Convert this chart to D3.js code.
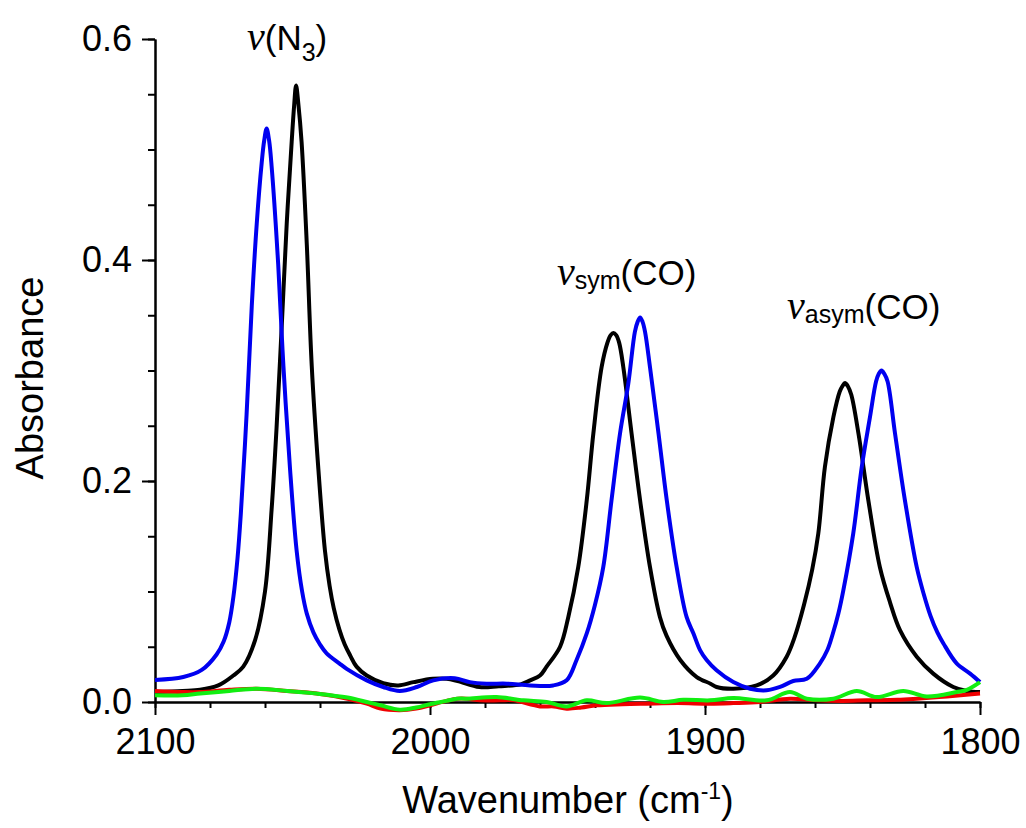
<!DOCTYPE html>
<html>
    <head>
        <title>IR spectra</title>
        <style>
            body { margin:0; background:#fff; }
            svg text { font-family:"Liberation Sans", Arial, sans-serif; fill:#000; }
            .axis path, .axis line { stroke:#000; stroke-width:2px; }
            .axis text { font-size:36px; }
        </style>
    </head>
    <body>
        <div id="chart"></div>
        <script src="https://d3js.org/d3.v7.min.js"></script>
        <script>
            // (wavenumber in cm-1, absorbance)
            var blackWn  = [2100,2090,2083.6,2077,2071.5,2067.9,2063.6,2060,2057.6,2055.8,2053.9,2052.1,2050.3,2049.4,2048.7,2047.9,2046.7,2044.8,2043,2040.6,2038.2,2036.5,2035,2033,2031,2029,2026.7,2023,2017,2011.5,2006,1999,1994,1990,1982,1975,1967,1963.6,1960,1957.6,1952.7,1949.7,1946.1,1943,1940.6,1937.6,1935.5,1934.3,1933.3,1932.3,1931.2,1929.7,1926.7,1923.6,1920,1916.4,1914,1909,1903,1898,1895.8,1889.7,1881.2,1875.2,1870.3,1867.5,1864,1861,1858.8,1856.4,1853.3,1851,1850,1849.1,1848.1,1846.8,1844.2,1840.6,1836.4,1832.7,1829.1,1823,1817,1809.7,1804.8,1800];
            var blackAbs = [0.009,0.010,0.011,0.015,0.024,0.032,0.056,0.100,0.174,0.248,0.341,0.433,0.507,0.540,0.558,0.542,0.507,0.414,0.304,0.211,0.137,0.105,0.085,0.066,0.052,0.042,0.032,0.024,0.017,0.015,0.018,0.021,0.021,0.019,0.0135,0.0143,0.016,0.0196,0.024,0.032,0.050,0.077,0.122,0.1825,0.243,0.303,0.325,0.332,0.334,0.332,0.325,0.303,0.243,0.1825,0.122,0.077,0.060,0.038,0.0226,0.0166,0.0136,0.012,0.015,0.024,0.041,0.058,0.088,0.120,0.1524,0.2127,0.258,0.281,0.286,0.2887,0.286,0.278,0.243,0.1825,0.122,0.090,0.065,0.041,0.0257,0.0136,0.010,0.009];

            var blueWn  = [2100,2089.7,2083,2077.6,2075,2073,2071.5,2070,2068.8,2066.7,2064.8,2063,2061.2,2060.3,2059.4,2058.5,2057.6,2055.2,2053.3,2050.9,2048.5,2046.5,2044.8,2042.4,2040,2037.6,2033,2030.3,2023,2017,2011,2004.8,1998.8,1991,1985.5,1979.4,1972,1963.6,1955.2,1950.3,1946.7,1943,1940,1937,1934,1930.9,1927.9,1925.5,1924.5,1923.6,1922.7,1921.8,1920,1916.9,1913.9,1910.3,1906.7,1904.2,1901.8,1899.4,1895.8,1889.7,1883.6,1877.6,1872.7,1867.9,1863,1858.2,1855.5,1853.5,1851.5,1849.7,1846.1,1843,1840,1837.8,1836.8,1835.8,1834.8,1833.6,1830.9,1827.3,1823,1820.5,1818,1815.5,1813.3,1808.5,1803.6,1800];
            var blueAbs = [0.020,0.0226,0.029,0.043,0.055,0.072,0.095,0.130,0.170,0.260,0.359,0.433,0.488,0.508,0.519,0.508,0.485,0.396,0.304,0.211,0.137,0.100,0.080,0.063,0.052,0.044,0.035,0.030,0.0196,0.0136,0.010,0.0136,0.0196,0.0215,0.018,0.0166,0.0166,0.015,0.015,0.0196,0.038,0.062,0.088,0.122,0.1825,0.243,0.288,0.335,0.344,0.348,0.344,0.335,0.303,0.243,0.1825,0.122,0.077,0.062,0.047,0.038,0.0287,0.018,0.012,0.0106,0.0136,0.019,0.021,0.035,0.047,0.062,0.080,0.101,0.1524,0.2127,0.258,0.290,0.297,0.300,0.297,0.290,0.243,0.1825,0.122,0.098,0.078,0.063,0.053,0.035,0.0257,0.018];

            var redWn  = [2100,2090,2083.6,2073,2063,2052,2041.2,2030,2023,2018,2011,2005,2000,1994,1990,1986.7,1981.8,1974.5,1969.7,1960,1955,1950.3,1945,1939.4,1930,1921.2,1910,1898.2,1889.7,1880,1869.1,1859.4,1850,1841.2,1830,1823,1812,1800];
            var redAbs = [0.010,0.009,0.009,0.011,0.012,0.010,0.0076,0.003,-0.0015,-0.006,-0.0075,-0.006,-0.003,0.001,0.003,0.003,0.0015,0.0015,0.0015,-0.004,-0.004,-0.006,-0.005,-0.003,-0.002,-0.0015,-0.001,-0.0015,-0.001,0.000,0.003,0.0015,0.001,0.0015,0.002,0.003,0.005,0.0076];

            var greenWn  = [2100,2090,2083.6,2073,2063,2052,2041.2,2030,2023,2018,2011,2005,2000,1994,1990.3,1986.7,1975.8,1966,1957.6,1950.3,1943,1935.8,1923.6,1915.2,1907.9,1898.2,1889.7,1877.6,1869.1,1863,1853.3,1844.8,1837.6,1827.9,1819.4,1808.5,1804.8,1800];
            var greenAbs = [0.006,0.006,0.0076,0.010,0.012,0.010,0.0076,0.004,0.000,-0.003,-0.0069,-0.005,-0.002,0.001,0.003,0.003,0.0045,0.0015,0.000,-0.004,0.0015,-0.001,0.004,0.000,0.002,0.0015,0.0036,0.0015,0.009,0.003,0.003,0.010,0.0045,0.010,0.005,0.009,0.011,0.018];

            var xMajor = [2100,2000,1900,1800];
            var xMinor = d3.range(1800, 2101, 20);
            var yMajor = [0.0,0.2,0.4,0.6];
            var yMinor = d3.range(0, 0.6001, 0.05);

            var width = 1026, height = 828;
            var x = d3.scaleLinear().domain([2100, 1800]).range([155, 980]);
            var y = d3.scaleLinear().domain([0, 0.6]).range([702, 39]);

            var svg = d3.select('#chart').append('svg')
                .attr('width', width)
                .attr('height', height);

            // minor ticks first, then the labelled axes
            svg.append('g').attr('class', 'axis')
                .attr('transform', 'translate(0,' + y(0) + ')')
                .call(d3.axisBottom(x).tickValues(xMinor).tickSize(6).tickSizeOuter(0).tickFormat(''));
            svg.append('g').attr('class', 'axis')
                .attr('transform', 'translate(0,' + y(0) + ')')
                .call(d3.axisBottom(x).tickValues(xMajor).tickSize(13).tickSizeOuter(0).tickPadding(13).tickFormat(d3.format('d')));

            svg.append('g').attr('class', 'axis')
                .attr('transform', 'translate(' + x(2100) + ',0)')
                .call(d3.axisLeft(y).tickValues(yMinor).tickSize(7).tickSizeOuter(0).tickFormat(''));
            svg.append('g').attr('class', 'axis')
                .attr('transform', 'translate(' + x(2100) + ',0)')
                .call(d3.axisLeft(y).tickValues(yMajor).tickSize(13).tickSizeOuter(0).tickPadding(10).tickFormat(d3.format('.1f')));

            svg.selectAll('.axis .tick text').attr('fill', '#000');

            // spectra
            var series = [
                {wn: blackWn, abs: blackAbs, color: '#000000'},
                {wn: blueWn,  abs: blueAbs,  color: '#0000f0'},
                {wn: redWn,   abs: redAbs,   color: '#f00000'},
                {wn: greenWn, abs: greenAbs, color: '#11ee11'}
            ];

            var line = d3.line()
                .x(function(d) { return x(d[0]); })
                .y(function(d) { return y(d[1]); })
                .curve(d3.curveCatmullRom.alpha(0.5));

            svg.selectAll('path.spec')
                .data(series)
                .enter().append('path')
                .attr('class', 'spec')
                .attr('d', function(s) { return line(d3.zip(s.wn, s.abs)); })
                .attr('fill', 'none')
                .attr('stroke', function(s) { return s.color; })
                .attr('stroke-width', 4)
                .attr('stroke-linejoin', 'round');

            // axis titles
            var xt = svg.append('text')
                .attr('x', 568).attr('y', 813)
                .attr('text-anchor', 'middle')
                .style('font-size', '38px')
                .text('Wavenumber (cm');
            xt.append('tspan').attr('dy', -14).style('font-size', '23px').text('-1');
            xt.append('tspan').attr('dy', 14).text(')');

            svg.append('text')
                .attr('transform', 'translate(43,378) rotate(-90)')
                .attr('text-anchor', 'middle')
                .style('font-size', '38px')
                .text('Absorbance');

            // band labels
            function nu(t) {
                t.append('tspan')
                    .style('font-family', '"Liberation Serif", serif')
                    .style('font-style', 'italic')
                    .style('font-size', '40px')
                    .text('ν');
            }

            function bandLabel(px, py, sub, subDy, rest) {
                var t = svg.append('text').attr('x', px).attr('y', py).style('font-size', '35px');
                nu(t);
                t.append('tspan').attr('dy', subDy).style('font-size', '25px').text(sub);
                t.append('tspan').attr('dy', -subDy).text(rest);
                return t;
            }

            var n3 = svg.append('text').attr('x', 247).attr('y', 50).style('font-size', '35px');
            nu(n3);
            n3.append('tspan').text('(N');
            n3.append('tspan').attr('dy', 11).style('font-size', '25px').text('3');
            n3.append('tspan').attr('dy', -11).text(')');

            bandLabel(557, 285, 'sym', 4, '(CO)');
            bandLabel(787, 319, 'asym', 4, '(CO)');
        </script>
    </body>
</html>
